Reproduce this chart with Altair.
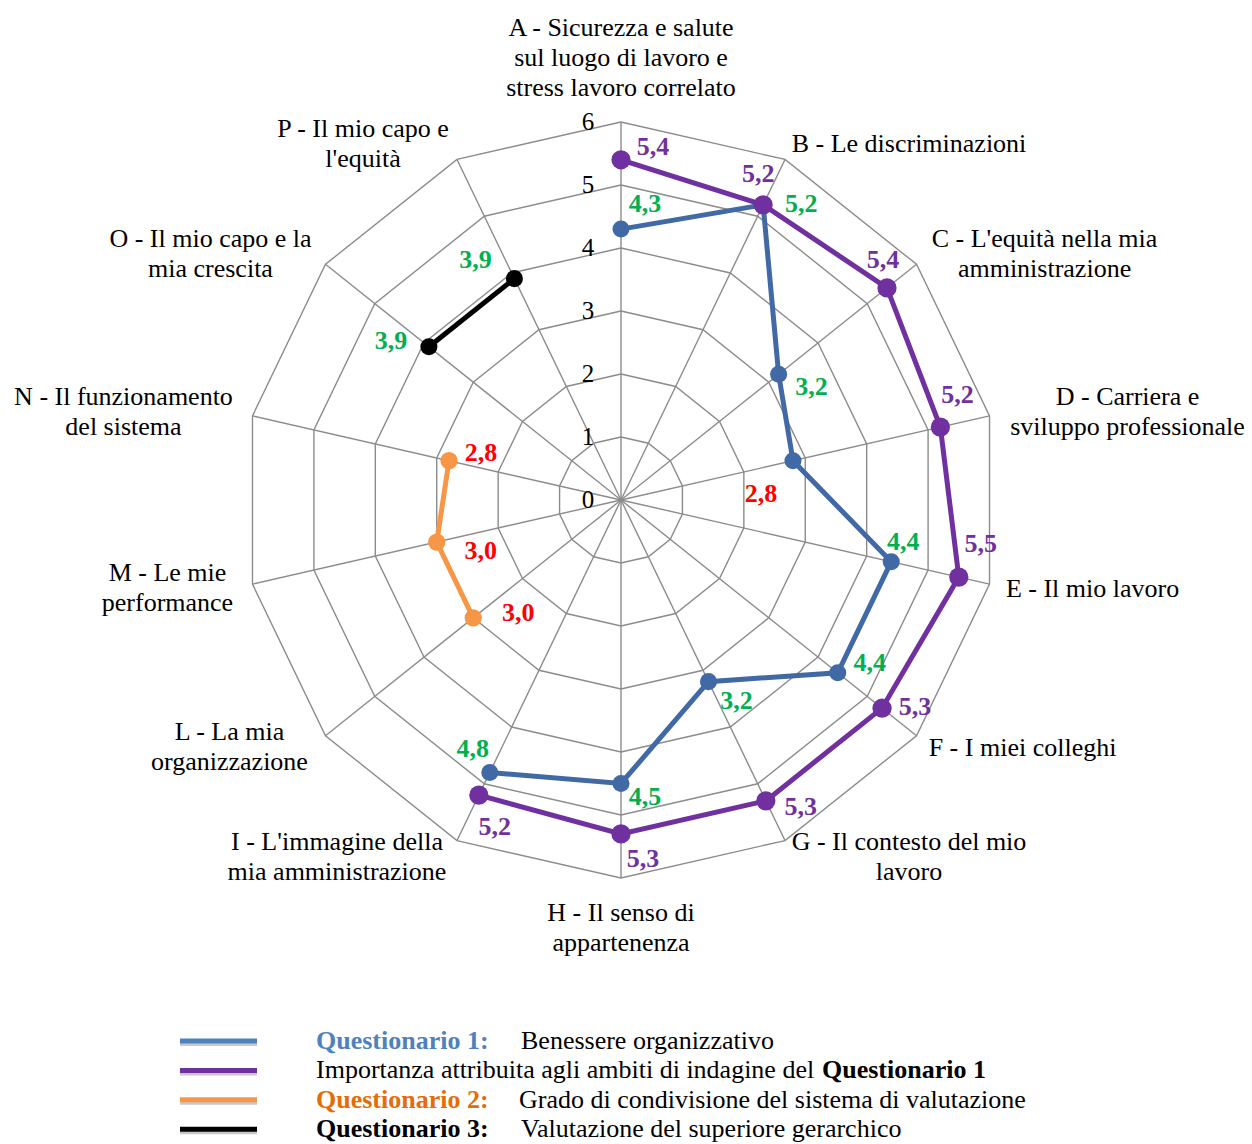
import altair as alt
import pandas as pd

# ---------------- data ----------------
CATEGORY_LABELS = [
    "A - Sicurezza e salute\nsul luogo di lavoro e\nstress lavoro correlato",
    "B - Le discriminazioni",
    "C - L'equità nella mia\namministrazione",
    "D - Carriera e\nsviluppo professionale",
    "E - Il mio lavoro",
    "F - I miei colleghi",
    "G - Il contesto del mio\nlavoro",
    "H - Il senso di\nappartenenza",
    "I - L'immagine della\nmia amministrazione",
    "L - La mia\norganizzazione",
    "M - Le mie\nperformance",
    "N - Il funzionamento\ndel sistema",
    "O - Il mio capo e la\nmia crescita",
    "P - Il mio capo e\nl'equità",
]
TICKS = [0, 1, 2, 3, 4, 5, 6]

Q1_IDX = [0, 1, 2, 3, 4, 5, 6, 7, 8]
Q1_VALUES = [4.3, 5.2, 3.2, 2.8, 4.4, 4.4, 3.2, 4.5, 4.8]
IMP_IDX = [0, 1, 2, 3, 4, 5, 6, 7, 8]
IMP_VALUES = [5.4, 5.2, 5.4, 5.2, 5.5, 5.3, 5.3, 5.3, 5.2]
Q2_IDX = [9, 10, 11]
Q2_VALUES = [3.0, 3.0, 2.8]
Q3_IDX = [12, 13]
Q3_VALUES = [3.9, 3.9]

LEGEND_HEAD = ["Questionario 1:", "Importanza attribuita agli ambiti di indagine del",
               "Questionario 2:", "Questionario 3:"]
LEGEND_BODY = ["Benessere organizzativo", "Questionario 1",
               "Grado di condivisione del sistema di valutazione",
               "Valutazione del superiore gerarchico"]

# ---------------- styles / layout ----------------
FONT = "Liberation Serif"
GREEN, RED, PURPLE = "#00B050", "#FF0000", "#7030A0"
BLUE, ORANGE, BLACK = "#4169A6", "#F79646", "#000000"
GRID = "#8C8C8C"

Q1_LABEL_COLORS = [GREEN, GREEN, GREEN, RED, GREEN, GREEN, GREEN, GREEN, GREEN]
IMP_LABEL_COLORS = [PURPLE] * 9
Q2_LABEL_COLORS = [RED] * 3
Q3_LABEL_COLORS = [GREEN] * 2

# label offsets in pixels (dx right, dy down) from the point
Q1_OFFS = [(24, -25), (38, -1), (33, 13), (-32, 33), (12, -20), (32, -10), (28, 19), (24, 13), (-17, -23)]
IMP_OFFS = [(32, -13), (-5, -31), (-4, -28), (17, -32), (22, -33), (33, -1), (35, 6), (22, 25), (16, 32)]
Q2_OFFS = [(45, -5), (44, 9), (32, -8)]
Q3_OFFS = [(-38, -6), (-39, -19)]
# offsets of each label block centre from the outer vertex
CAT_OFFS = [(0, -64), (124, -15), (128, -10), (138, -4), (103, 5), (106, 12), (124, 16),
            (0, 50), (-120, 16), (-96, 11), (-85, 4), (-129, -4), (-115, -10), (-94, -15)]
LINE_H = 30

N = len(CATEGORY_LABELS)
W, H = 1236, 1136
CX, CY = 613.0, 492.0     # centre of the radar within the view (px)
PX = 63.0                 # pixels per unit

XDOM = [-CX / PX, (W - CX) / PX]
YDOM = [-(H - CY) / PX, CY / PX]


def X(f):
    return alt.X(f, type="quantitative", scale=alt.Scale(domain=XDOM, nice=False, zero=False), axis=None)


def Y(f):
    return alt.Y(f, type="quantitative", scale=alt.Scale(domain=YDOM, nice=False, zero=False), axis=None)


ANG = f"2*PI*datum.idx/{N}"

# ---------------- tables ----------------
grid_df = pd.DataFrame([{"level": lv, "k": k, "idx": k % N} for lv in TICKS[1:] for k in range(N + 1)])
spoke_df = pd.DataFrame({"idx": list(range(N))})
tick_df = pd.DataFrame({"level": TICKS})
cat_df = pd.DataFrame({"idx": list(range(N)), "text": CATEGORY_LABELS,
                       "dx": [o[0] for o in CAT_OFFS],
                       "dy": [o[1] - t.count("\n") * LINE_H / 2 for o, t in zip(CAT_OFFS, CATEGORY_LABELS)]})


def series_df(name, idxs, vals, offs, cols):
    return pd.DataFrame({"series": name, "idx": idxs, "value": vals,
                         "ldx": [o[0] for o in offs], "ldy": [o[1] for o in offs], "lcolor": cols})


s_q1 = series_df("Q1", Q1_IDX, Q1_VALUES, Q1_OFFS, Q1_LABEL_COLORS)
s_imp = series_df("IMP", IMP_IDX, IMP_VALUES, IMP_OFFS, IMP_LABEL_COLORS)
s_q2 = series_df("Q2", Q2_IDX, Q2_VALUES, Q2_OFFS, Q2_LABEL_COLORS)
s_q3 = series_df("Q3", Q3_IDX, Q3_VALUES, Q3_OFFS, Q3_LABEL_COLORS)

# ---------------- layers ----------------
grid = (alt.Chart(grid_df)
        .transform_calculate(a=ANG)
        .transform_calculate(gx="datum.level*sin(datum.a)", gy="datum.level*cos(datum.a)")
        .mark_line(color=GRID, strokeWidth=1.4)
        .encode(x=X("gx"), y=Y("gy"), detail="level:N", order="k:Q"))

spokes = (alt.Chart(spoke_df)
          .transform_calculate(a=ANG)
          .transform_calculate(zx="0", zy="0", sx=f"{TICKS[-1]}*sin(datum.a)", sy=f"{TICKS[-1]}*cos(datum.a)")
          .mark_rule(color=GRID, strokeWidth=1.4)
          .encode(x=X("zx"), y=Y("zy"), x2="sx:Q", y2="sy:Q"))

ticks = (alt.Chart(tick_df)
         .transform_calculate(tx=f"-33/{PX}", ty="datum.level")
         .mark_text(font=FONT, fontSize=25, color="black", align="center", baseline="middle")
         .encode(x=X("tx"), y=Y("ty"), text="level:N"))

cats = (alt.Chart(cat_df)
        .transform_calculate(a=ANG)
        .transform_calculate(cx=f"6*sin(datum.a)+datum.dx/{PX}", cy=f"6*cos(datum.a)-datum.dy/{PX}")
        .mark_text(font=FONT, fontSize=26, color="black", align="center", baseline="middle",
                   lineBreak="\n", lineHeight=LINE_H)
        .encode(x=X("cx"), y=Y("cy"), text="text:N"))


def pos(ch):
    return (ch.transform_calculate(a=ANG)
            .transform_calculate(px="datum.value*sin(datum.a)", py="datum.value*cos(datum.a)"))


def line_layer(df, color, width=5):
    return pos(alt.Chart(df)).mark_line(color=color, strokeWidth=width).encode(
        x=X("px"), y=Y("py"), order="idx:Q")


def point_layer(df, color, size):
    return pos(alt.Chart(df)).mark_circle(color=color, size=size, opacity=1).encode(
        x=X("px"), y=Y("py"))


def label_layer(df):
    return (pos(alt.Chart(df))
            .transform_calculate(lx=f"datum.px+datum.ldx/{PX}", ly=f"datum.py-datum.ldy/{PX}",
                                 lab="replace(format(datum.value,'.1f'),'.',',')")
            .mark_text(font=FONT, fontSize=26, fontWeight="bold", align="center", baseline="middle")
            .encode(x=X("lx"), y=Y("ly"), text="lab:N", color=alt.Color("lcolor:N", scale=None)))


halo = line_layer(s_q3, "white", 9)

# ---------------- legend ----------------
LEG_Y0, LEG_STEP = 1041.0, 29.4          # page px
LEG_SW = (180.0, 257.0)
LEG_SW_COLORS = ["#4F81BD", PURPLE, ORANGE, BLACK]
LEG_HEAD_X = 316.0
LEG_BODY_X = [521.0, 822.0, 519.0, 521.0]
LEG_HEAD_BOLD = [True, False, True, True]
LEG_HEAD_COLORS = ["#4F81BD", BLACK, "#E46C0A", BLACK]


def px2x(p):
    return (p - 8 - CX) / PX


def py2y(p):
    return (CY - (p - 8)) / PX


rows = range(len(LEGEND_HEAD))
sw_df = pd.DataFrame({"x0": [px2x(LEG_SW[0])] * 4, "x1": [px2x(LEG_SW[1])] * 4,
                      "y": [py2y(LEG_Y0 + r * LEG_STEP) for r in rows],
                      "ys": [py2y(LEG_Y0 + r * LEG_STEP + 3) for r in rows],
                      "c": LEG_SW_COLORS})
txt_rows = []
for r in rows:
    txt_rows.append({"x": px2x(LEG_HEAD_X), "y": py2y(LEG_Y0 + r * LEG_STEP), "t": LEGEND_HEAD[r],
                     "bold": LEG_HEAD_BOLD[r], "c": LEG_HEAD_COLORS[r]})
    txt_rows.append({"x": px2x(LEG_BODY_X[r]), "y": py2y(LEG_Y0 + r * LEG_STEP), "t": LEGEND_BODY[r],
                     "bold": not LEG_HEAD_BOLD[r], "c": BLACK})
leg_txt_df = pd.DataFrame(txt_rows)

sw_shadow = alt.Chart(sw_df).mark_rule(color="#C8C8C8", strokeWidth=4).encode(
    x=X("x0"), x2="x1:Q", y=Y("ys"))
sw = alt.Chart(sw_df).mark_rule(strokeWidth=5).encode(
    x=X("x0"), x2="x1:Q", y=Y("y"), color=alt.Color("c:N", scale=None))
leg_bold = (alt.Chart(leg_txt_df).transform_filter("datum.bold")
            .mark_text(font=FONT, fontSize=26, fontWeight="bold", align="left", baseline="middle")
            .encode(x=X("x"), y=Y("y"), text="t:N", color=alt.Color("c:N", scale=None)))
leg_norm = (alt.Chart(leg_txt_df).transform_filter("!datum.bold")
            .mark_text(font=FONT, fontSize=26, align="left", baseline="middle")
            .encode(x=X("x"), y=Y("y"), text="t:N", color=alt.Color("c:N", scale=None)))

chart = alt.layer(
    grid, spokes, ticks, cats,
    line_layer(s_q1, BLUE), line_layer(s_imp, PURPLE), line_layer(s_q2, ORANGE),
    halo, line_layer(s_q3, BLACK),
    point_layer(s_q1, BLUE, 290), point_layer(s_imp, PURPLE, 370),
    point_layer(s_q2, ORANGE, 300), point_layer(s_q3, BLACK, 290),
    label_layer(s_q1), label_layer(s_imp), label_layer(s_q2), label_layer(s_q3),
    sw_shadow, sw, leg_bold, leg_norm,
).properties(
    width=W, height=H, padding=0, autosize=alt.AutoSizeParams(type="none")
).configure_view(strokeWidth=0)

chart.save("out.html", embed_options={"renderer": "svg", "actions": False})
